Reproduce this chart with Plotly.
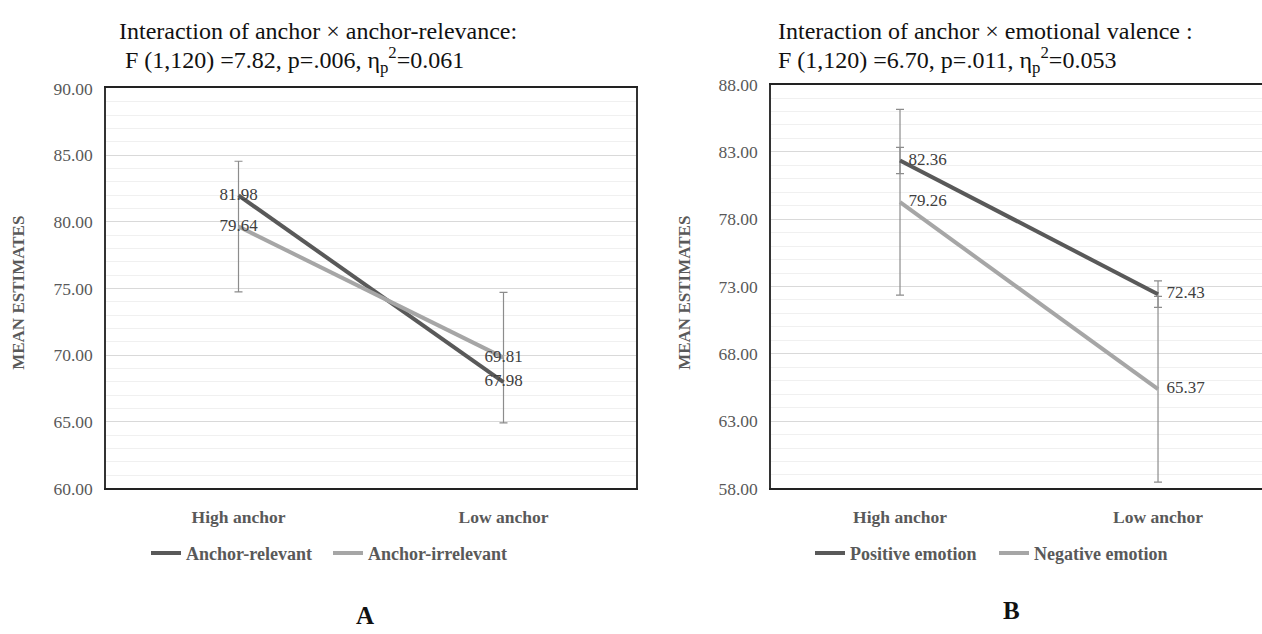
import plotly.graph_objects as go

W, H = 1262, 634

# ---------------- data ----------------
categories = ["High anchor", "Low anchor"]

# Panel A
a_relevant = [81.98, 67.98]
a_irrelevant = [79.64, 69.81]
a_irrelevant_err = [4.9, 4.9]
a_names = ["Anchor-relevant", "Anchor-irrelevant"]
a_title1 = "Interaction of anchor × anchor-relevance:"
a_title2 = " F (1,120) =7.82, p=.006, η<sub>p</sub><sup>2</sup>=0.061"

# Panel B
b_positive = [82.36, 72.43]
b_negative = [79.26, 65.37]
b_positive_err = [0.98, 0.98]
b_negative_err = [6.9, 6.9]
b_names = ["Positive emotion", "Negative emotion"]
b_title1 = "Interaction of anchor × emotional valence :"
b_title2 = "F (1,120) =6.70, p=.011, η<sub>p</sub><sup>2</sup>=0.053"

y_title = "MEAN ESTIMATES"
panel_labels = ["A", "B"]

# ---------------- style ----------------
SERIF = "Liberation Serif"
DARK = "#595959"
LIGHT = "#a6a6a6"
ERR = "#8c8c8c"
TXT = "#404040"
TICK = "#595959"


def px_x(x):
    return x / W


def px_y(y):
    return 1 - y / H


fig = go.Figure()

# error bar traces (drawn first, no legend)
fig.add_trace(go.Scatter(
    x=categories, y=a_irrelevant, mode="markers",
    marker=dict(size=1, color="rgba(0,0,0,0)"),
    error_y=dict(type="data", array=a_irrelevant_err, color=ERR, thickness=1.2, width=4),
    showlegend=False, hoverinfo="skip", xaxis="x", yaxis="y"))
fig.add_trace(go.Scatter(
    x=categories, y=b_negative, mode="markers",
    marker=dict(size=1, color="rgba(0,0,0,0)"),
    error_y=dict(type="data", array=b_negative_err, color=ERR, thickness=1.2, width=4),
    showlegend=False, hoverinfo="skip", xaxis="x2", yaxis="y2"))
fig.add_trace(go.Scatter(
    x=categories, y=b_positive, mode="markers",
    marker=dict(size=1, color="rgba(0,0,0,0)"),
    error_y=dict(type="data", array=b_positive_err, color=ERR, thickness=1.2, width=4),
    showlegend=False, hoverinfo="skip", xaxis="x2", yaxis="y2"))

label_font = dict(family=SERIF, size=17, color=TXT)

# Panel A lines
fig.add_trace(go.Scatter(
    x=categories, y=a_relevant, name=a_names[0], mode="lines+text",
    line=dict(color=DARK, width=4), text=[f"{v:.2f}" for v in a_relevant],
    textposition="middle center", textfont=label_font,
    xaxis="x", yaxis="y", legend="legend"))
fig.add_trace(go.Scatter(
    x=categories, y=a_irrelevant, name=a_names[1], mode="lines+text",
    line=dict(color=LIGHT, width=4), text=[f"{v:.2f}" for v in a_irrelevant],
    textposition="middle center", textfont=label_font,
    xaxis="x", yaxis="y", legend="legend"))

# Panel B lines
fig.add_trace(go.Scatter(
    x=categories, y=b_positive, name=b_names[0], mode="lines+text",
    line=dict(color=DARK, width=4), text=["  " + f"{v:.2f}" for v in b_positive],
    textposition="middle right", textfont=label_font,
    xaxis="x2", yaxis="y2", legend="legend2"))
fig.add_trace(go.Scatter(
    x=categories, y=b_negative, name=b_names[1], mode="lines+text",
    line=dict(color=LIGHT, width=4), text=["  " + f"{v:.2f}" for v in b_negative],
    textposition="middle right", textfont=label_font,
    xaxis="x2", yaxis="y2", legend="legend2"))

xaxis_common = dict(
    type="category", showgrid=False, zeroline=False,
    showline=True, linecolor="#222222", linewidth=1.5, mirror=True,
    ticks="", ticklabelstandoff=12,
    tickfont=dict(family=SERIF, size=17.5, color=TICK, weight="bold"),
)
yaxis_common = dict(
    showgrid=True, gridcolor="#d9d9d9", gridwidth=1, zeroline=False,
    showline=True, linecolor="#333333", linewidth=1.5,
    ticks="", ticklabelstandoff=8, tickformat=".2f", dtick=5,
    tickfont=dict(family=SERIF, size=17.5, color=TICK),
    minor=dict(dtick=1, showgrid=True, gridcolor="#f0f0f0", gridwidth=1),
)

legend_font = dict(family=SERIF, size=18, color=TICK, weight="bold")
fig.update_layout(
    width=W, height=H,
    margin=dict(l=0, r=0, t=0, b=0),
    paper_bgcolor="white", plot_bgcolor="white",
    xaxis=dict(xaxis_common, domain=[px_x(106), px_x(636)], range=[-0.5, 1.5], anchor="y"),
    yaxis=dict(yaxis_common, domain=[px_y(494), px_y(81)], range=[60, 90], tick0=60,
               mirror=True, anchor="x"),
    xaxis2=dict(xaxis_common, domain=[px_x(771), 1.0], range=[-0.5, 1.403], anchor="y2"),
    yaxis2=dict(yaxis_common, domain=[px_y(494), px_y(77)], range=[58, 88], tick0=58,
                mirror=False, anchor="x2"),
    legend=dict(orientation="h", x=px_x(146), y=px_y(561), xanchor="left", yanchor="middle",
                font=legend_font, bgcolor="rgba(0,0,0,0)", itemwidth=30,
                entrywidth=137, entrywidthmode="pixels"),
    legend2=dict(orientation="h", x=px_x(810), y=px_y(561), xanchor="left", yanchor="middle",
                 font=legend_font, bgcolor="rgba(0,0,0,0)", itemwidth=30,
                 entrywidth=139, entrywidthmode="pixels"),
    showlegend=True,
)

title_font = dict(family=SERIF, size=24, color="#111111")
ann = []
ann.append(dict(text=a_title1, x=px_x(117), y=px_y(22), xanchor="left", yanchor="middle", font=title_font))
ann.append(dict(text=a_title2, x=px_x(117), y=px_y(52), xanchor="left", yanchor="middle", font=title_font))
ann.append(dict(text=b_title1, x=px_x(776), y=px_y(22), xanchor="left", yanchor="middle", font=title_font))
ann.append(dict(text=b_title2, x=px_x(776), y=px_y(52), xanchor="left", yanchor="middle", font=title_font))
ann.append(dict(text=y_title, x=px_x(19), y=px_y(292), textangle=-90, xanchor="center", yanchor="middle",
                font=dict(family=SERIF, size=17, color=TICK, weight="bold")))
ann.append(dict(text=y_title, x=px_x(685), y=px_y(292), textangle=-90, xanchor="center", yanchor="middle",
                font=dict(family=SERIF, size=17, color=TICK, weight="bold")))
ann.append(dict(text=panel_labels[0], x=px_x(365), y=px_y(625), xanchor="center", yanchor="middle",
                font=dict(family=SERIF, size=25, color="#111111", weight="bold")))
ann.append(dict(text=panel_labels[1], x=px_x(1011), y=px_y(620), xanchor="center", yanchor="middle",
                font=dict(family=SERIF, size=25, color="#111111", weight="bold")))
for a in ann:
    a.update(xref="paper", yref="paper", showarrow=False)
fig.update_layout(annotations=ann)

post = (
    "var s=document.createElement('style');"
    "s.textContent='html,body{margin:0!important;padding:0!important;overflow:hidden!important;"
    "width:1262px;height:634px;}';"
    "document.head.appendChild(s);"
)

fig.write_html("out.html", config={"displayModeBar": False}, post_script=post)
